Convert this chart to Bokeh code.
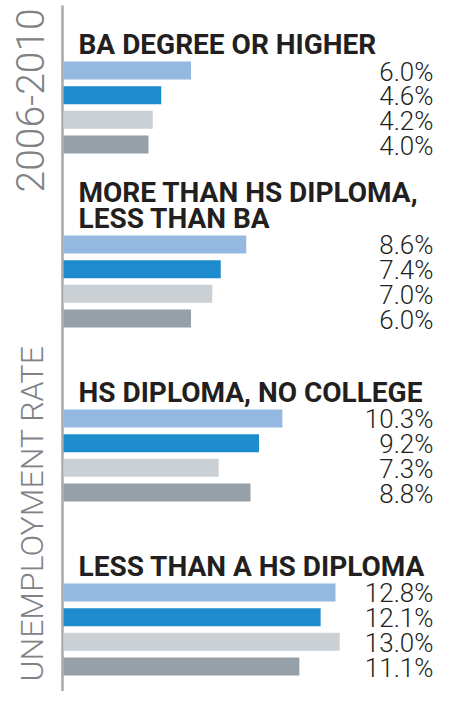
import math
from bokeh.plotting import figure
from bokeh.models import Range1d, Span, ColumnDataSource
from bokeh.core.properties import value
from bokeh.embed import file_html
from bokeh.resources import INLINE

# ---- data ----
categories = ["BA DEGREE OR HIGHER",
              "MORE THAN HS DIPLOMA,\nLESS THAN BA",
              "HS DIPLOMA, NO COLLEGE",
              "LESS THAN A HS DIPLOMA"]
series_names = ["Series 1", "Series 2", "Series 3", "Series 4"]
series_1 = [6.0, 8.6, 10.3, 12.8]
series_2 = [4.6, 7.4, 9.2, 12.1]
series_3 = [4.2, 7.0, 7.3, 13.0]
series_4 = [4.0, 6.0, 8.8, 11.1]
period_label = "2006-2010"
measure_label = "UNEMPLOYMENT RATE"

# ---- styling / layout ----
colors = ["#94b8e0", "#1e8bcd", "#cbd0d4", "#96a0a8"]
W, H = 435, 691
PX_PER_UNIT = 21.25     # horizontal pixels per percentage point
ZERO_PX = 63            # pixel position of the zero line
BAR_STEP_PX = 24.67     # vertical pixels per bar slot
FIRST_BAR_PX = 70       # pixel centre of the first bar
GROUP_STEP = 7.053      # bar slots between the starts of two groups

x_range = Range1d(-ZERO_PX / PX_PER_UNIT, (W - ZERO_PX) / PX_PER_UNIT)
y_range = Range1d((H - FIRST_BAR_PX) / BAR_STEP_PX, -FIRST_BAR_PX / BAR_STEP_PX)

def px_x(px):
    return (px - ZERO_PX) / PX_PER_UNIT

def px_y(py):
    return (py - FIRST_BAR_PX) / BAR_STEP_PX

p = figure(width=W, height=H, x_range=x_range, y_range=y_range,
           output_backend="svg", toolbar_location=None,
           x_axis_location=None, y_axis_location=None,
           min_border=0, outline_line_color=None, background_fill_color="white")
p.grid.visible = False

all_series = [series_1, series_2, series_3, series_4]
ys, vals, cols, labels = [], [], [], []
for gi, cat in enumerate(categories):
    for si, ser in enumerate(all_series):
        ys.append(gi * GROUP_STEP + si)
        vals.append(ser[gi])
        cols.append(colors[si])
        labels.append(f"{ser[gi]:.1f}%")

src = ColumnDataSource(dict(y=ys, v=vals, c=cols, lab=labels))

p.segment(x0=[px_x(62)], x1=[px_x(62)], y0=[px_y(5)], y1=[px_y(705)],
          line_color="#a7a9ac", line_width=2.5)

p.hbar(y="y", left=0, right="v", height=0.73, fill_color="c", line_color=None, source=src)

# value labels at right edge
p.text(x=x_range.end, y="y", text="lab", source=src, x_offset=-2, y_offset=1,
       text_align="right", text_baseline="middle",
       text_font=value("Roboto Light"), text_font_size="26px",
       text_color="#231f20")

# group titles
tx, ty, tt, toff = [], [], [], []
for gi, cat in enumerate(categories):
    lines = cat.split("\n")
    n = len(lines)
    for k, line in enumerate(lines):
        tx.append(0)
        ty.append(gi * GROUP_STEP)
        tt.append(line)
        toff.append(-26 - (n - 1 - k) * 26)
tsrc = ColumnDataSource(dict(x=tx, y=ty, t=tt, off=toff))
p.text(x="x", y="y", text="t", y_offset="off", x_offset=15, source=tsrc,
       text_align="left", text_baseline="middle",
       text_font=value("Roboto"), text_font_style="bold", text_font_size="28px",
       text_color="#231f20")

# rotated side texts
p.text(x=[px_x(31)], y=[px_y(345)], text=[measure_label],
       angle=math.pi / 2, text_align="right", text_baseline="middle",
       text_font=value("Roboto Light"), text_font_size="32px",
       text_color="#808285")
p.text(x=[px_x(29)], y=[px_y(192)], text=[period_label],
       angle=math.pi / 2, text_align="left", text_baseline="middle",
       text_font=value("Roboto Light"), text_font_size="39px",
       text_color="#808285")

open("out.html", "w").write(file_html(p, INLINE))
